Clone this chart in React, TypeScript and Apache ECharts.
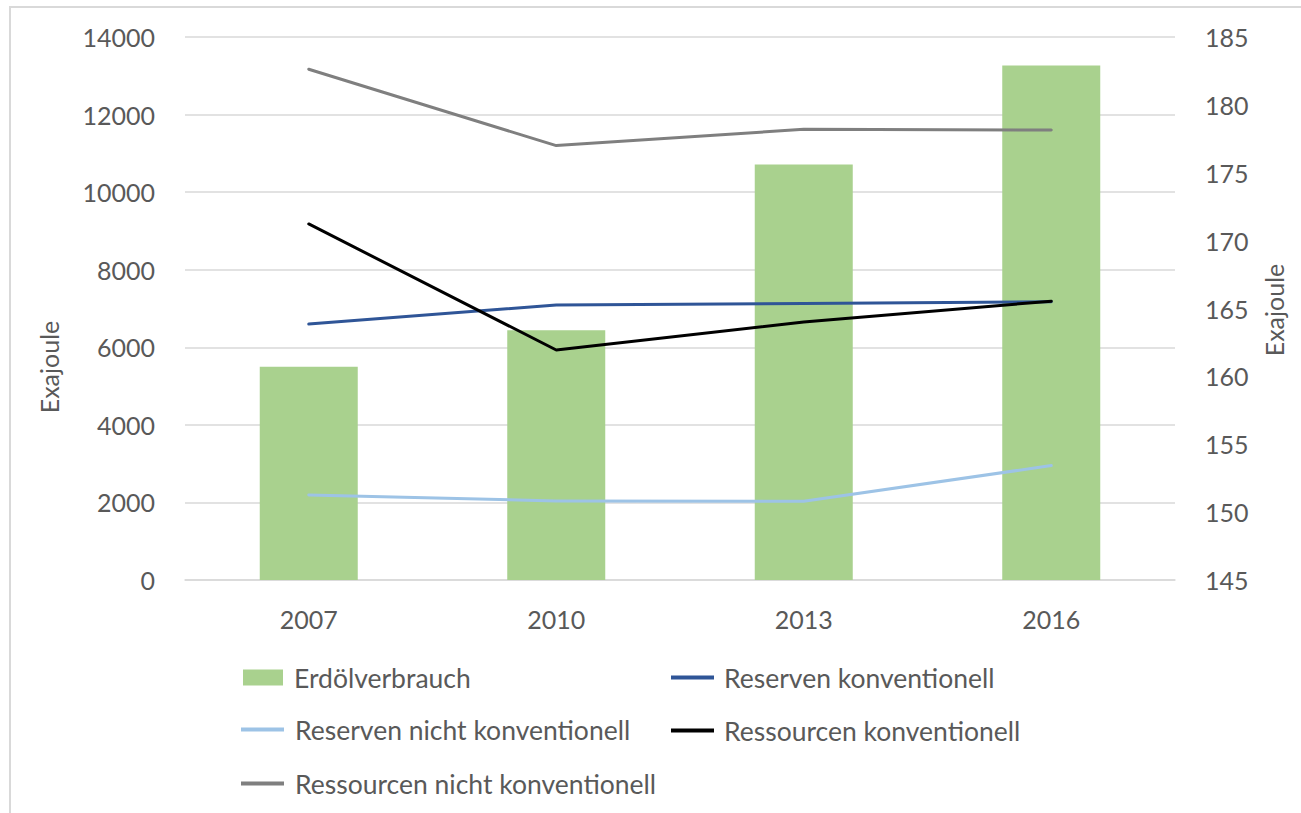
import React, { useEffect, useRef } from "react";
import * as echarts from "echarts";

const categories = ["2007", "2010", "2013", "2016"];
const erdoelverbrauch = [160.7, 163.4, 175.6, 182.9];
const reservenKonv = [6600, 7090, 7130, 7175];
const reservenNichtKonv = [2190, 2040, 2030, 2950];
const ressourcenKonv = [9180, 5930, 6650, 7190];
const ressourcenNichtKonv = [13170, 11200, 11620, 11600];

const FONT = "Lato";
const TXT = "#595959";
const GRID = "#D9D9D9";

export default function App() {
  const ref = useRef<HTMLDivElement>(null);
  useEffect(() => {
    document.body.style.margin = "0";
    const chart = echarts.init(ref.current!, null, { renderer: "svg" });
    const lineSeries = (name: string, data: number[], color: string) => ({
      name,
      type: "line",
      yAxisIndex: 0,
      data,
      symbol: "none",
      lineStyle: { color, width: 3, cap: "round", join: "round" },
      itemStyle: { color },
      z: 3,
    });
    const legendText = { color: TXT, fontSize: 26.5, fontFamily: FONT, padding: [0, 0, 0, 6] };
    chart.setOption({
      animation: false,
      backgroundColor: "#ffffff",
      textStyle: { fontFamily: FONT },
      grid: { left: 185, right: 126, top: 37, bottom: 233 },
      xAxis: {
        type: "category",
        data: categories,
        axisLine: { show: true, lineStyle: { color: GRID, width: 1.5 } },
        axisTick: { show: false },
        axisLabel: { color: TXT, fontSize: 25, fontFamily: FONT, margin: 26 },
      },
      yAxis: [
        {
          type: "value",
          min: 0,
          max: 14000,
          interval: 2000,
          axisLine: { show: false },
          axisTick: { show: false },
          splitLine: { lineStyle: { color: GRID, width: 1.5 } },
          axisLabel: {
            color: TXT,
            fontSize: 25,
            fontFamily: FONT,
            margin: 30,
            formatter: (v: number) => String(v),
          },
        },
        {
          type: "value",
          min: 145,
          max: 185,
          interval: 5,
          position: "right",
          axisLine: { show: false },
          axisTick: { show: false },
          splitLine: { show: false },
          axisLabel: {
            color: TXT,
            fontSize: 25,
            fontFamily: FONT,
            margin: 30,
            formatter: (v: number) => String(v),
          },
        },
      ],
      legend: [
        {
          orient: "vertical",
          left: 243,
          top: 664,
          padding: 0,
          itemWidth: 40,
          itemHeight: 16,
          icon: "rect",
          data: ["Erdölverbrauch"],
          textStyle: legendText,
        },
        {
          orient: "vertical",
          left: 241,
          top: 716,
          padding: 0,
          itemGap: 27,
          itemWidth: 43,
          itemHeight: 4,
          icon: "rect",
          data: ["Reserven nicht konventionell", "Ressourcen nicht konventionell"],
          textStyle: legendText,
        },
        {
          orient: "vertical",
          left: 671,
          top: 664,
          padding: 0,
          itemGap: 26,
          itemWidth: 43,
          itemHeight: 4,
          icon: "rect",
          data: ["Reserven konventionell", "Ressourcen konventionell"],
          textStyle: { ...legendText, padding: [0, 0, 0, 5] },
        },
      ],
      graphic: [
        {
          type: "rect",
          shape: { x: 10, y: 7, width: 1400, height: 1000 },
          style: { fill: "none", stroke: GRID, lineWidth: 2 },
          silent: true,
        },
        {
          type: "text",
          x: 49,
          y: 367,
          rotation: Math.PI / 2,
          style: {
            text: "Exajoule",
            fill: TXT,
            fontSize: 25,
            fontFamily: FONT,
            align: "center",
            verticalAlign: "middle",
          },
        },
        {
          type: "text",
          x: 1274,
          y: 310,
          rotation: Math.PI / 2,
          style: {
            text: "Exajoule",
            fill: TXT,
            fontSize: 25,
            fontFamily: FONT,
            align: "center",
            verticalAlign: "middle",
          },
        },
      ],
      series: [
        {
          name: "Erdölverbrauch",
          type: "bar",
          yAxisIndex: 1,
          data: erdoelverbrauch,
          barWidth: 98,
          itemStyle: { color: "#A9D18E" },
          z: 1,
        },
        lineSeries("Reserven konventionell", reservenKonv, "#2F5597"),
        lineSeries("Reserven nicht konventionell", reservenNichtKonv, "#9DC3E6"),
        lineSeries("Ressourcen konventionell", ressourcenKonv, "#000000"),
        lineSeries("Ressourcen nicht konventionell", ressourcenNichtKonv, "#7F7F7F"),
      ],
    });
    return () => chart.dispose();
  }, []);
  return <div ref={ref} style={{ width: 1301, height: 813 }} />;
}
